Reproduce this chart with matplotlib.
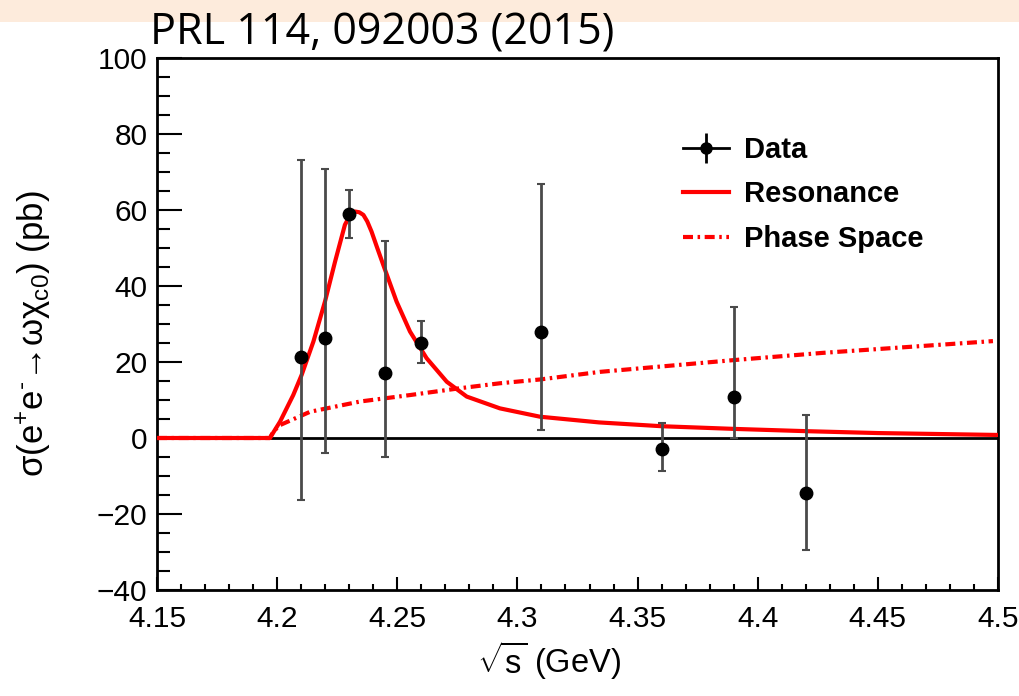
import matplotlib
matplotlib.use("Agg")
import matplotlib.pyplot as plt
from matplotlib.lines import Line2D
from matplotlib.legend_handler import HandlerTuple
from matplotlib.patches import Rectangle
from matplotlib import font_manager

# ---------------- data ----------------
data_x = [4.21, 4.22, 4.23, 4.245, 4.26, 4.31, 4.36, 4.39, 4.42]
data_y = [21.3, 26.4, 58.9, 17.2, 25.1, 27.9, -2.9, 10.9, -14.5]
err_up = [51.9, 44.4, 6.4, 34.7, 5.8, 38.9, 6.8, 23.5, 20.6]
err_dn = [37.6, 30.3, 6.3, 22.2, 5.4, 25.8, 5.8, 10.9, 15.0]

res_x = [4.15, 4.197, 4.2012, 4.2067, 4.2102, 4.2151, 4.2199, 4.2241, 4.2282,
         4.2305, 4.2324, 4.2342, 4.2359, 4.2375, 4.2393, 4.2415, 4.2442, 4.2497,
         4.2553, 4.2622, 4.2706, 4.2789, 4.2927, 4.3094, 4.334, 4.36, 4.39,
         4.42, 4.45, 4.5]
res_y = [0.0, 0.0, 4.3, 11.3, 16.6, 25.4, 35.9, 46.4, 56.1,
         58.8, 59.6, 59.4, 58.7, 57.0, 54.3, 50.3, 45.5, 35.9,
         28.0, 21.0, 14.8, 10.9, 7.8, 5.6, 4.1, 3.1, 2.4,
         1.8, 1.3, 0.8]

ps_x = [4.15, 4.197, 4.1984, 4.2012, 4.2137, 4.2345, 4.2553, 4.2761, 4.2927,
        4.3094, 4.3343, 4.39, 4.427, 4.4979]
ps_y = [0.0, 0.0, 1.7, 3.4, 6.9, 9.6, 11.3, 13.1, 14.4,
        15.4, 17.4, 20.5, 22.4, 25.5]

xticks = [4.15, 4.2, 4.25, 4.3, 4.35, 4.4, 4.45, 4.5]
xticklabels = ["4.15", "4.2", "4.25", "4.3", "4.35", "4.4", "4.45", "4.5"]
yticks = [-40, -20, 0, 20, 40, 60, 80, 100]
legend_labels = ["Data", "Resonance", "Phase Space"]
title_text = "PRL 114, 092003 (2015)"

# ---------------- style ----------------
names = {f.name for f in font_manager.fontManager.ttflist}
sans = "Liberation Sans" if "Liberation Sans" in names else "DejaVu Sans"
title_font = "Liberation Sans Narrow" if "Liberation Sans Narrow" in names else "Open Sans"

plt.rcParams["font.family"] = [sans, "DejaVu Sans"]
plt.rcParams["mathtext.fontset"] = "custom"
plt.rcParams["mathtext.rm"] = sans
plt.rcParams["mathtext.it"] = sans + ":italic"
plt.rcParams["mathtext.bf"] = sans + ":bold"
plt.rcParams["mathtext.default"] = "regular"

fig = plt.figure(figsize=(10.19, 6.96), dpi=100)
fig.patches.append(Rectangle((0, 1 - 22 / 696), 1, 22 / 696, transform=fig.transFigure,
                             facecolor="#fdebdc", edgecolor="none", zorder=0))
ax = fig.add_axes([157 / 1019, 106 / 696, (998 - 157) / 1019, (590 - 58) / 696])

PS_DASH = (2.4, 1.1, 0.6, 1.1)
ax.axhline(0, color="black", lw=2, zorder=1)
ax.plot(ps_x, ps_y, color="red", lw=3, dashes=PS_DASH, zorder=3)
ax.plot(res_x, res_y, color="red", lw=3, zorder=4, solid_joinstyle="round")
ax.errorbar(data_x, data_y, yerr=[err_dn, err_up], fmt="o", color="black",
            ecolor="#4a4a4a", elinewidth=2, capsize=3, capthick=1.5,
            markersize=9, zorder=5)

ax.set_xlim(4.15, 4.5)
ax.set_ylim(-40, 100)
ax.set_xticks(xticks)
ax.set_xticklabels(xticklabels)
ax.set_yticks(yticks)
ax.set_xticks([4.15 + 0.01 * i for i in range(36)], minor=True)
ax.set_yticks(list(range(-40, 101, 5)), minor=True)

ax.tick_params(axis="both", which="both", direction="in", top=False, right=False,
               labelsize=21.5, colors="black")
ax.tick_params(axis="y", which="major", length=18, width=1.5, pad=7)
ax.tick_params(axis="y", which="minor", length=9, width=1.5)
ax.tick_params(axis="x", which="major", length=9.5, width=1.5, pad=11)
ax.tick_params(axis="x", which="minor", length=4.5, width=1.5)
for s in ax.spines.values():
    s.set_linewidth(2)

ax.set_ylabel("σ(e$^{+}$e$^{‐}$→ωχ$_{c0}$) (pb)", fontsize=25)
ax.yaxis.set_label_coords(-0.124, 0.481)
ax.set_xlabel(r"$\sqrt{s}$ (GeV)", fontsize=23.5)
ax.xaxis.set_label_coords(0.466, -0.092)

h_data = (Line2D([], [], color="black", lw=2, marker="o", markersize=8),
          Line2D([], [], ls="none", color="black", marker="|", markersize=22, markeredgewidth=2))
h_res = Line2D([], [], color="red", lw=3)
h_ps = Line2D([], [], color="red", lw=3, dashes=PS_DASH)
leg = ax.legend([h_data, h_res, h_ps], legend_labels,
                handler_map={tuple: HandlerTuple(ndivide=1)},
                loc="upper left", bbox_to_anchor=(0.594, 0.903), frameon=False,
                prop={"family": sans, "weight": "bold", "size": 21},
                handlelength=1.6, handletextpad=0.5, labelspacing=0.57)

fig.text(150 / 1019, 1 - 44 / 696, title_text, fontsize=31, family=title_font,
         ha="left", va="baseline", color="black")

fig.savefig("out.png", dpi=100)
